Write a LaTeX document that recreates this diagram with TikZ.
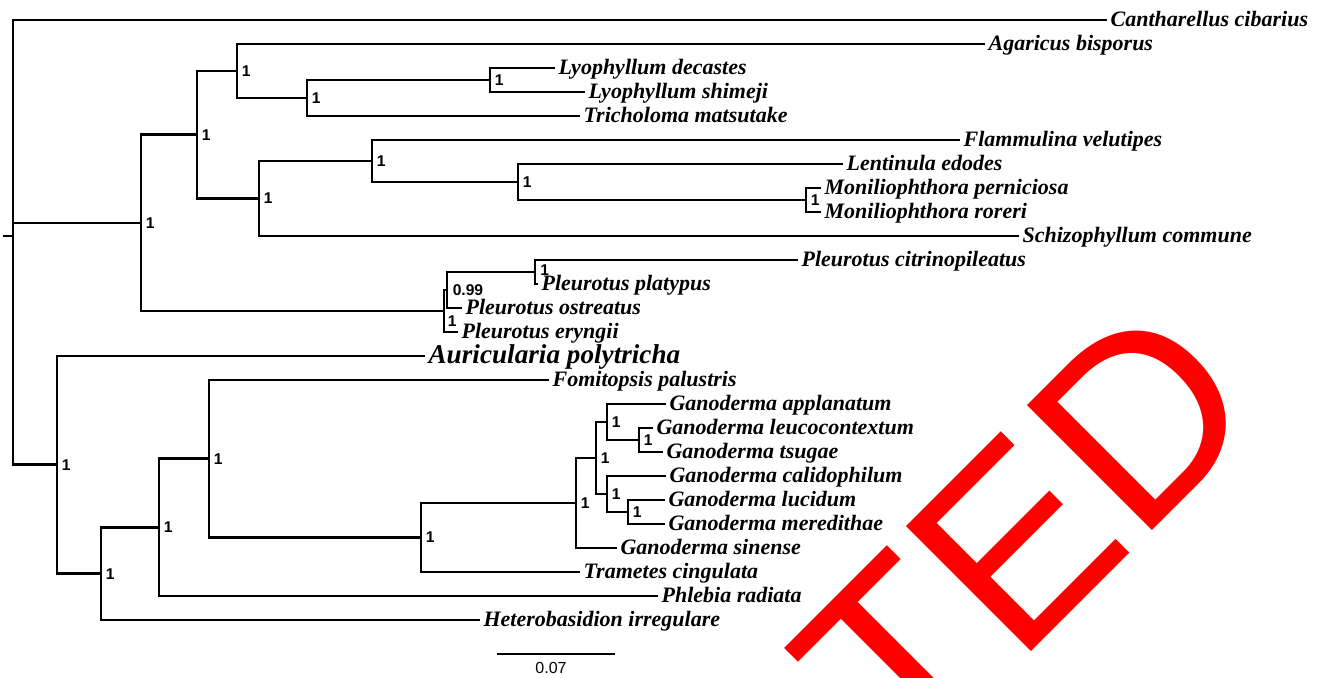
\documentclass[tikz,border=0pt]{standalone}
\usepackage{fontspec}
\setmainfont{Liberation Serif}
\setsansfont{Liberation Sans}
\begin{document}
\begin{tikzpicture}[x=0.5pt,y=-0.5pt,
  br/.style={line width=1.4pt},
  tip/.style={anchor=base west, inner sep=0pt, xshift=1.6pt, yshift=-3.2pt,
    font=\bfseries\itshape\fontsize{11}{11}\selectfont},
  bigtip/.style={tip, yshift=-0.3pt, font=\bfseries\itshape\fontsize{13.6}{13.6}\selectfont},
  boot/.style={anchor=west, inner sep=0pt, xshift=2.2pt,
    font=\sffamily\bfseries\fontsize{7.8}{7.8}\selectfont},
  wmark/.style={text=red, rotate=45, anchor=base west, inner sep=0pt,
    font=\sffamily\fontsize{128.5}{128.5}\selectfont}]
\useasboundingbox (0,0) rectangle (1321,677);
\clip (0,0) rectangle (1321,677);

% internal nodes
\coordinate (stub) at (3,236);
\coordinate (root) at (13,236);
\coordinate (n1) at (141,223);
\coordinate (n3) at (197,134.75);
\coordinate (n4) at (237,71);
\coordinate (n6) at (307,98);
\coordinate (n7) at (490,80);
\coordinate (n5) at (259,198.5);
\coordinate (n8) at (372,161);
\coordinate (n9) at (518,182);
\coordinate (n10) at (806,200);
\coordinate (nA) at (444,311);
\coordinate (nB) at (447,290);
\coordinate (nC) at (535,272);
\coordinate (n2) at (57,464.85);
\coordinate (n11) at (101,573.7);
\coordinate (n12) at (159,527.4);
\coordinate (n13) at (209,458.75);
\coordinate (n14) at (421,537.5);
\coordinate (n15) at (576,503);
\coordinate (n16) at (596,458);
\coordinate (n17) at (607,422);
\coordinate (n19) at (639,440);
\coordinate (n18) at (607,494);
\coordinate (n20) at (628,512);

% tips
\coordinate (t1) at (1107,20);
\coordinate (t2) at (985,44);
\coordinate (t3) at (555,68);
\coordinate (t4) at (585,92);
\coordinate (t5) at (580,116);
\coordinate (t6) at (960,140);
\coordinate (t7) at (843,164);
\coordinate (t8) at (821,188);
\coordinate (t9) at (821,212);
\coordinate (t10) at (1019,236);
\coordinate (t11) at (798,260);
\coordinate (t12) at (538,284);
\coordinate (t13) at (462,308);
\coordinate (t14) at (458,332);
\coordinate (t15) at (425,356);
\coordinate (t16) at (549,380);
\coordinate (t17) at (666,404);
\coordinate (t18) at (653,428);
\coordinate (t19) at (663,452);
\coordinate (t20) at (666,476);
\coordinate (t21) at (665,500);
\coordinate (t22) at (665,524);
\coordinate (t23) at (617,548);
\coordinate (t24) at (580,572);
\coordinate (t25) at (658,596);
\coordinate (t26) at (480,620);

% branches
\draw[br] (stub) -- (root);
\draw[br] (root) |- (t1);
\draw[br] (root) |- (n1);
\draw[br] (root) |- (n2);
\draw[br] (n1) |- (n3);
\draw[br] (n1) |- (nA);
\draw[br] (n3) |- (n4);
\draw[br] (n3) |- (n5);
\draw[br] (n4) |- (t2);
\draw[br] (n4) |- (n6);
\draw[br] (n6) |- (n7);
\draw[br] (n6) |- (t5);
\draw[br] (n7) |- (t3);
\draw[br] (n7) |- (t4);
\draw[br] (n5) |- (n8);
\draw[br] (n5) |- (t10);
\draw[br] (n8) |- (t6);
\draw[br] (n8) |- (n9);
\draw[br] (n9) |- (t7);
\draw[br] (n9) |- (n10);
\draw[br] (n10) |- (t8);
\draw[br] (n10) |- (t9);
\draw[br] (nA) |- (nB);
\draw[br] (nA) |- (t14);
\draw[br] (nB) |- (nC);
\draw[br] (nB) |- (t13);
\draw[br] (nC) |- (t11);
\draw[br] (nC) |- (t12);
\draw[br] (n2) |- (t15);
\draw[br] (n2) |- (n11);
\draw[br] (n11) |- (n12);
\draw[br] (n11) |- (t26);
\draw[br] (n12) |- (n13);
\draw[br] (n12) |- (t25);
\draw[br] (n13) |- (t16);
\draw[br] (n13) |- (n14);
\draw[br] (n14) |- (n15);
\draw[br] (n14) |- (t24);
\draw[br] (n15) |- (n16);
\draw[br] (n15) |- (t23);
\draw[br] (n16) |- (n17);
\draw[br] (n16) |- (n18);
\draw[br] (n17) |- (t17);
\draw[br] (n17) |- (n19);
\draw[br] (n19) |- (t18);
\draw[br] (n19) |- (t19);
\draw[br] (n18) |- (t20);
\draw[br] (n18) |- (n20);
\draw[br] (n20) |- (t21);
\draw[br] (n20) |- (t22);

% tip labels
\node[tip] (l1) at (t1) {Cantharellus cibarius};
\node[tip] (l2) at (t2) {Agaricus bisporus};
\node[tip] (l3) at (t3) {Lyophyllum decastes};
\node[tip] (l4) at (t4) {Lyophyllum shimeji};
\node[tip] (l5) at (t5) {Tricholoma matsutake};
\node[tip] (l6) at (t6) {Flammulina velutipes};
\node[tip] (l7) at (t7) {Lentinula edodes};
\node[tip] (l8) at (t8) {Moniliophthora perniciosa};
\node[tip] (l9) at (t9) {Moniliophthora roreri};
\node[tip] (l10) at (t10) {Schizophyllum commune};
\node[tip] (l11) at (t11) {Pleurotus citrinopileatus};
\node[tip] (l12) at (t12) {Pleurotus platypus};
\node[tip] (l13) at (t13) {Pleurotus ostreatus};
\node[tip] (l14) at (t14) {Pleurotus eryngii};
\node[bigtip] (l15) at (t15) {Auricularia polytricha};
\node[tip] (l16) at (t16) {Fomitopsis palustris};
\node[tip] (l17) at (t17) {Ganoderma applanatum};
\node[tip] (l18) at (t18) {Ganoderma leucocontextum};
\node[tip] (l19) at (t19) {Ganoderma tsugae};
\node[tip] (l20) at (t20) {Ganoderma calidophilum};
\node[tip] (l21) at (t21) {Ganoderma lucidum};
\node[tip] (l22) at (t22) {Ganoderma meredithae};
\node[tip] (l23) at (t23) {Ganoderma sinense};
\node[tip] (l24) at (t24) {Trametes cingulata};
\node[tip] (l25) at (t25) {Phlebia radiata};
\node[tip] (l26) at (t26) {Heterobasidion irregulare};

% support values
\node[boot] (b1) at (n1) {1};
\node[boot] (b3) at (n3) {1};
\node[boot] (b4) at (n4) {1};
\node[boot] (b6) at (n6) {1};
\node[boot] (b7) at (n7) {1};
\node[boot] (b5) at (n5) {1};
\node[boot] (b8) at (n8) {1};
\node[boot] (b9) at (n9) {1};
\node[boot] (b10) at (n10) {1};
\node[boot, xshift=0.3pt, yshift=1pt] (bC) at (nC) {1};
\node[boot, xshift=0.5pt] (bB) at (nB) {0.99};
\node[boot, xshift=-0.5pt, yshift=-5pt] (bA) at (nA) {1};
\node[boot] (b2) at (n2) {1};
\node[boot] (b11) at (n11) {1};
\node[boot] (b12) at (n12) {1};
\node[boot] (b13) at (n13) {1};
\node[boot] (b14) at (n14) {1};
\node[boot] (b15) at (n15) {1};
\node[boot] (b16) at (n16) {1};
\node[boot] (b17) at (n17) {1};
\node[boot] (b19) at (n19) {1};
\node[boot] (b18) at (n18) {1};
\node[boot] (b20) at (n20) {1};

% scale bar
\coordinate (s1) at (497,654);
\coordinate (s2) at (615,654);
\draw[br] (s1) -- (s2);
\node[font=\sffamily\fontsize{8}{8}\selectfont, inner sep=0pt] (slab) at (551,668) {0.07};

% watermark
\node[wmark] (wm) at (905,778) {TED};
\end{tikzpicture}
\end{document}
